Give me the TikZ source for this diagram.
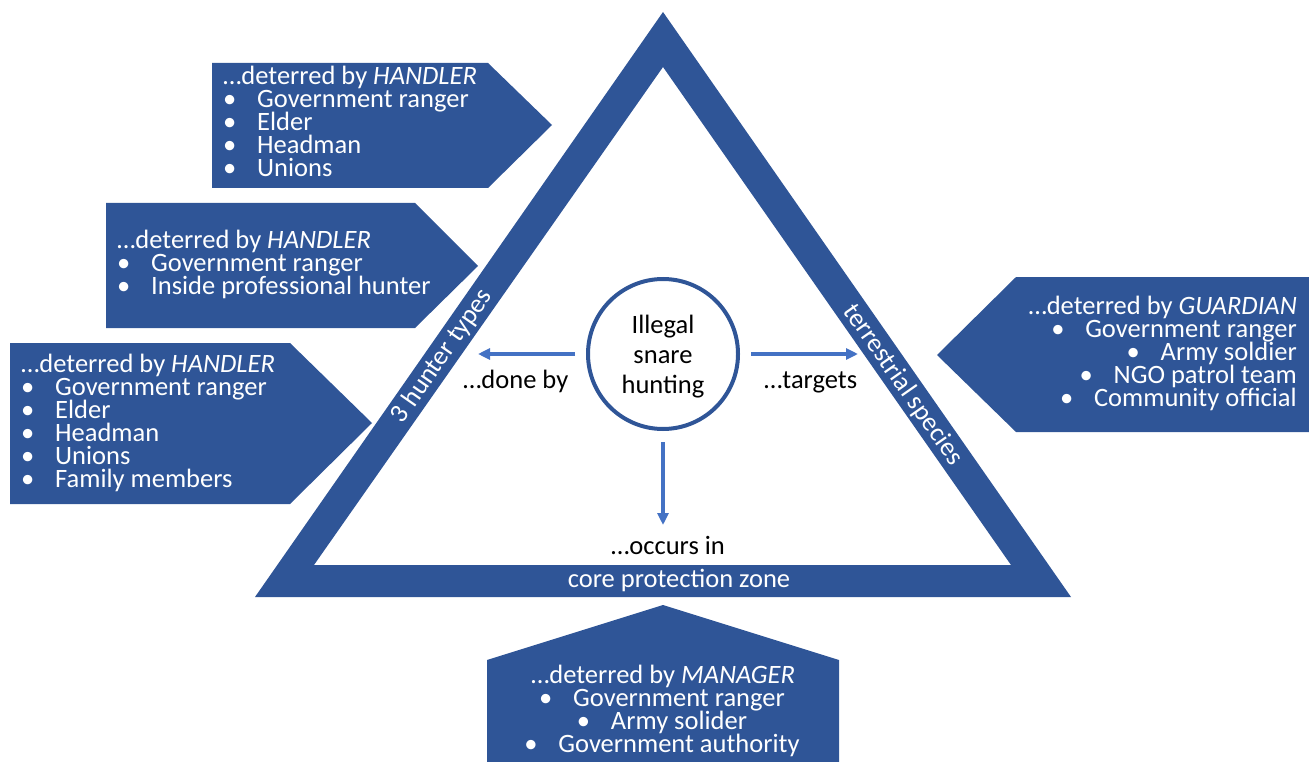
\documentclass[tikz,border=0pt]{standalone}
\usepackage{fontspec}
\setmainfont{Carlito}
\usetikzlibrary{arrows.meta}
\definecolor{dblue}{HTML}{2F5597}
\definecolor{lblue}{HTML}{4472C4}
\newcommand\bul[1]{\makebox[34pt][l]{\textbullet}#1}
\begin{document}
\begin{tikzpicture}[x=1pt,y=-1pt,
  txt/.style={inner sep=0pt, font=\fontsize{26.5}{23}\selectfont},
  wt/.style={txt,text=white},
  bk/.style={txt,text=black},
  arr/.style={lblue, line width=3.5pt, -{Triangle[length=12pt,width=11pt]}},
  panel/.style={fill=dblue}]
\useasboundingbox (0,0) rectangle (1309,762);
% triangle frame
\fill[dblue,even odd rule] (663,12) -- (1071,597) -- (255,597) -- cycle
  (663,67) -- (1011,565) -- (314,565) -- cycle;
% panels
\fill[panel] (212,63) -- (488,63) -- (552,125) -- (488,188) -- (212,188) -- cycle;
\fill[panel] (106,203) -- (415,203) -- (478,266) -- (415,328) -- (106,328) -- cycle;
\fill[panel] (10,343) -- (290,343) -- (372,423) -- (290,504) -- (10,504) -- cycle;
\fill[panel] (1309,277) -- (1016,277) -- (937,355) -- (1016,432) -- (1309,432) -- cycle;
\fill[panel] (487,660) -- (663,605) -- (839,660) -- (839,762) -- (487,762) -- cycle;
% panel 1
\node[wt,anchor=base west] (h1t) at (223,85) {…deterred by \textit{HANDLER}};
\foreach \t [count=\i] in {Government ranger, Elder, Headman, Unions}
  \node[wt,anchor=base west] (h1i\i) at (223,{85+23*\i}) {\bul{\t}};
% panel 2
\node[wt,anchor=base west] (h2t) at (117,248) {…deterred by \textit{HANDLER}};
\foreach \t [count=\i] in {Government ranger, Inside professional hunter}
  \node[wt,anchor=base west] (h2i\i) at (117,{248+23*\i}) {\bul{\t}};
% panel 3
\node[wt,anchor=base west] (h3t) at (21,372) {…deterred by \textit{HANDLER}};
\foreach \t [count=\i] in {Government ranger, Elder, Headman, Unions, Family members}
  \node[wt,anchor=base west] (h3i\i) at (21,{372+23*\i}) {\bul{\t}};
% panel 4
\node[wt,anchor=base east] (g0) at (1297,314) {…deterred by \textit{GUARDIAN}};
\foreach \t [count=\i] in {Government ranger, Army soldier, NGO patrol team, Community official}
  \node[wt,anchor=base east] (g\i) at (1297,{314+23*\i}) {\bul{\t}};
% panel 5
\node[wt,anchor=base] (m0) at (663,683) {…deterred by \textit{MANAGER}};
\foreach \t [count=\i] in {Government ranger, Army solider, Government authority}
  \node[wt,anchor=base] (m\i) at (662,{683+23*\i}) {\bul{\t}};
% side labels
\node[wt,rotate=55] (hunters) at (442,356) {3 hunter types};
\node[wt,rotate=-55] (species) at (903,385) {terrestrial species};
\node[wt,anchor=base] (zone) at (679,587) {core protection zone};
% centre
\node[draw=dblue, line width=4pt, circle, minimum size=150pt, inner sep=0pt] (hunt) at (663,354) {};
\node[bk,anchor=base] (ill) at (663,333) {Illegal};
\node[bk,anchor=base] (sna) at (663,363) {snare};
\node[bk,anchor=base] (hun) at (663,393) {hunting};
\coordinate (doneEnd) at (478,354);
\coordinate (tgtEnd) at (858,354);
\coordinate (occEnd) at (663,525);
\draw[arr] ([xshift=-11pt]hunt.west) -- (doneEnd);
\draw[arr] ([xshift=11pt]hunt.east) -- (tgtEnd);
\draw[arr] ([yshift=-11pt]hunt.south) -- (occEnd);
\node[bk,anchor=base west] (done) at (463,388) {…done by};
\node[bk,anchor=base west] (tgt) at (764,388) {…targets};
\node[bk,anchor=base] (occ) at (668,554) {…occurs in};
\end{tikzpicture}
\end{document}
